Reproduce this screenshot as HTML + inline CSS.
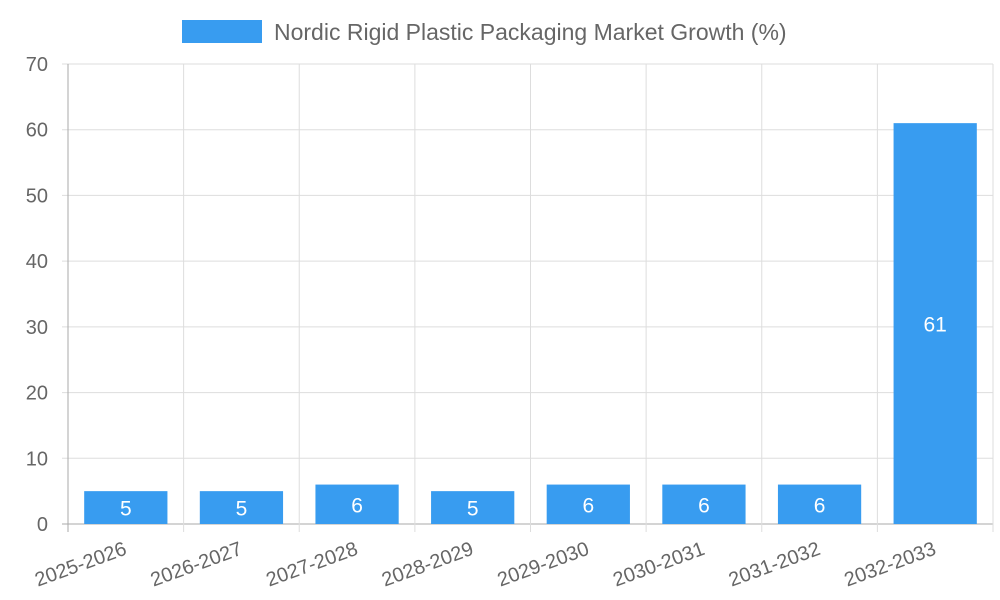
<!DOCTYPE html>
<html><head><meta charset="utf-8"><style>
body{margin:0;background:#fff;}
svg{display:block;font-family:"Liberation Sans",sans-serif;}
</style></head><body>
<svg id="chart" width="1000" height="600">
<g>
<rect x="182" y="20" width="80" height="23" fill="#389cf0"></rect>
<text x="274" y="40" font-size="23" fill="#666">Nordic Rigid Plastic Packaging Market Growth (%)</text>
</g>
<g id="grid"></g><g id="bars"></g><g id="axes"></g>
</svg>
<script>
const categories=["2025-2026","2026-2027","2027-2028","2028-2029","2029-2030","2030-2031","2031-2032","2032-2033"];
const values=[5,5,6,5,6,6,6,61];
const yTicks=[0,10,20,30,40,50,60,70];
const L=68,R=993,T=64,B=524,yMax=70;
const NS="http://www.w3.org/2000/svg";
const bw=(R-L)/categories.length;
const y=v=>B-(v/yMax)*(B-T);
const x=i=>L+bw*i;
function mk(tag,attrs,parent,txt){const e=document.createElementNS(NS,tag);for(const k in attrs)e.setAttribute(k,attrs[k]);if(txt!=null)e.textContent=txt;document.getElementById(parent).appendChild(e);return e;}
yTicks.forEach(t=>{
 const g=mk('line',{x1:L-6,x2:R,y1:y(t),y2:y(t),stroke:t===0?'#aaa':'#ddd','stroke-width':1},'grid');
 
 
 const l=mk('text',{x:48,y:y(t)+7,'text-anchor':'end','font-size':20,fill:'#666'},'axes',t);
 
 
});
for(let i=0;i<=categories.length;i++){
 const g=mk('line',{x1:x(i),x2:x(i),y1:T,y2:B+8,stroke:i===0?'#aaa':'#ddd','stroke-width':1},'grid');
 
 
}
categories.forEach((c,i)=>{
 const cx=x(i)+bw/2, w=bw*0.72;
 const r=mk('rect',{x:cx-w/2,y:y(values[i]),width:w,height:B-y(values[i]),fill:'#389cf0'},'bars');
 
 
 const vl=mk('text',{x:cx,y:(y(values[i])+B)/2+8,'text-anchor':'middle','font-size':21,fill:'#fff'},'bars',values[i]);
 
 
 const tl=mk('text',{x:cx+2,y:B+30,'text-anchor':'end','font-size':20,fill:'#666',transform:`rotate(-20 ${cx+2} ${B+30})`},'axes',c);
 
 
});
</script>
</body></html>
